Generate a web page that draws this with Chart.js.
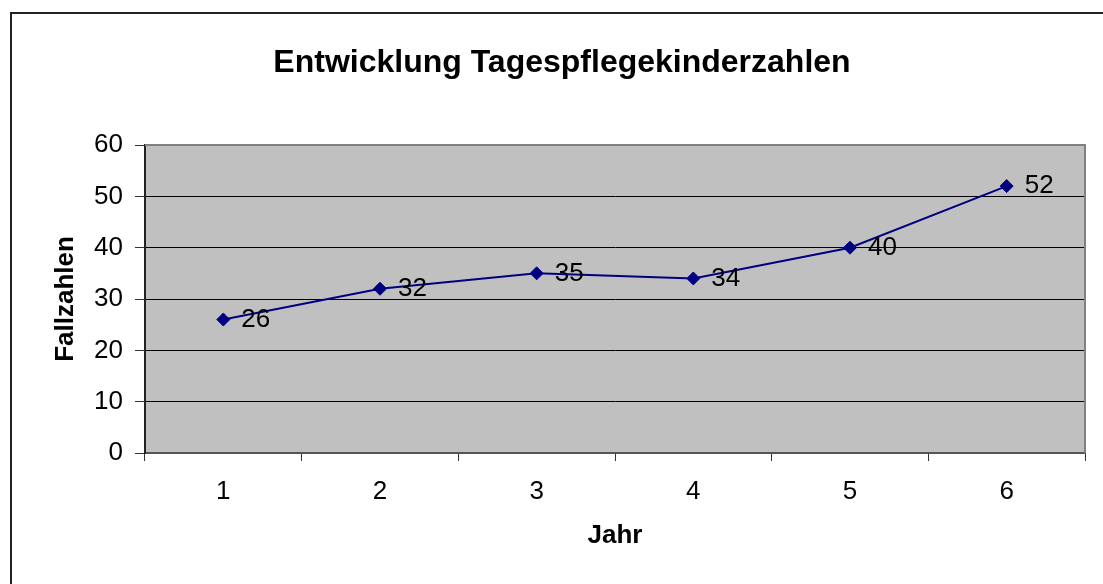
<!DOCTYPE html>
<html>
<head>
<meta charset="utf-8">
<script src="https://cdn.jsdelivr.net/npm/chart.js@4"></script>
<style>
    html, body { margin: 0; padding: 0; background: #fff; }
    #wrap { width: 1103px; height: 584px; position: relative; }
</style>
</head>
<body>
<div id="wrap"><canvas id="chart" width="1103" height="584"></canvas></div>
<script>
// Chart data
const chartTitle = 'Entwicklung Tagespflegekinderzahlen';
const years = ['1', '2', '3', '4', '5', '6'];
const caseCounts = [26, 32, 35, 34, 40, 52];
const yTicks = [0, 10, 20, 30, 40, 50, 60];

const FONT = '"Liberation Sans", Arial, sans-serif';

// Outer frame, title and grey plot background
const framePlugin = {
    id: 'frame',
    beforeDraw(chart) {
        const ctx = chart.ctx;
        const a = chart.chartArea;
        ctx.save();
        ctx.fillStyle = '#fff';
        ctx.fillRect(0, 0, chart.width, chart.height);
        ctx.strokeStyle = '#222';
        ctx.lineWidth = 2;
        ctx.strokeRect(11, 13, 2000, 2000);
        ctx.fillStyle = '#c0c0c0';
        ctx.fillRect(a.left, a.top, a.right - a.left, a.bottom - a.top);
        // title (centred like the original, a bit right of the plot centre)
        ctx.fillStyle = '#000';
        ctx.font = 'bold 32px ' + FONT;
        ctx.textAlign = 'center';
        ctx.textBaseline = 'middle';
        ctx.fillText(chartTitle, 562, 63);
        ctx.restore();
    },
    beforeDatasetsDraw(chart) {
        const ctx = chart.ctx;
        const a = chart.chartArea;
        ctx.save();
        ctx.strokeStyle = '#808080';
        ctx.lineWidth = 2;
        ctx.beginPath();
        ctx.moveTo(a.left, a.top);
        ctx.lineTo(a.right, a.top);
        ctx.lineTo(a.right, a.bottom);
        ctx.stroke();
        ctx.restore();
    }
};

// Value labels right of each point
const valueLabels = {
    id: 'valueLabels',
    afterDatasetsDraw(chart) {
        const ctx = chart.ctx;
        const meta = chart.getDatasetMeta(0);
        ctx.save();
        ctx.font = '26px ' + FONT;
        ctx.fillStyle = '#000';
        ctx.textAlign = 'left';
        ctx.textBaseline = 'middle';
        meta.data.forEach((pt, i) => {
            ctx.fillText(String(caseCounts[i]), pt.x + 18, pt.y);
        });
        ctx.restore();
    }
};

new Chart(document.getElementById('chart'), {
    type: 'line',
    data: {
        labels: years,
        datasets: [{
            data: caseCounts,
            borderColor: '#000080',
            backgroundColor: '#000080',
            borderWidth: 2,
            pointStyle: 'rectRot',
            pointRadius: 6.5,
            pointBorderWidth: 1,
            tension: 0
        }]
    },
    options: {
        responsive: false,
        animation: false,
        layout: { padding: { left: 0, right: 18, top: 145, bottom: 0 } },
        plugins: {
            legend: { display: false },
            tooltip: { enabled: false },
            title: { display: false }
        },
        scales: {
            x: {
                offset: true,
                grid: {
                    offset: true,
                    drawOnChartArea: false,
                    tickLength: 8,
                    tickColor: '#333'
                },
                border: { color: '#555', width: 2 },
                ticks: {
                    color: '#000',
                    padding: 15,
                    font: { family: FONT, size: 26 }
                },
                title: {
                    display: true,
                    text: 'Jahr',
                    color: '#000',
                    font: { family: FONT, size: 26, weight: 'bold' },
                    padding: { top: 0, bottom: 33 }
                },
                afterFit(scale) { scale.height = 131; }
            },
            y: {
                min: 0,
                max: 60,
                afterBuildTicks(scale) {
                    scale.ticks = yTicks.map(v => ({ value: v }));
                },
                grid: {
                    color: (c) => {
                        if (c.tick && c.tick.value === 60) return '#808080';
                        if (c.tick && c.tick.value === 0) return 'rgba(0,0,0,0)';
                        return '#000';
                    },
                    tickLength: 10,
                    tickColor: '#333',
                    lineWidth: 1
                },
                border: { color: '#222', width: 2 },
                ticks: {
                    color: '#000',
                    padding: 12,
                    font: { family: FONT, size: 26 }
                },
                title: {
                    display: true,
                    text: 'Fallzahlen',
                    color: '#000',
                    font: { family: FONT, size: 26, weight: 'bold' },
                    padding: { top: 50, bottom: 0 }
                },
                afterFit(scale) { scale.width = 145; }
            }
        }
    },
    plugins: [framePlugin, valueLabels]
});
</script>
</body>
</html>
